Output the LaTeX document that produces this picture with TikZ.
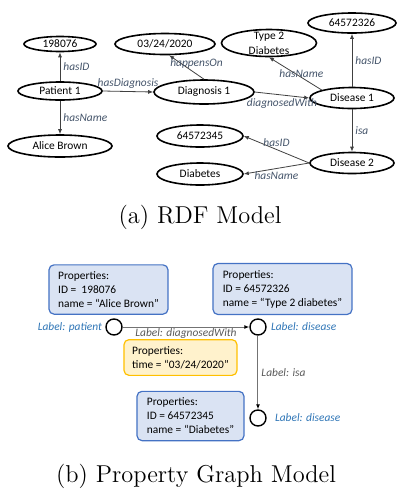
\documentclass[tikz,border=0pt]{standalone}
\usepackage{fontspec}
\usepackage{tikz}
\usetikzlibrary{shapes.geometric,arrows.meta,positioning}
\newfontfamily\carlito{Carlito}
\definecolor{rellabel}{HTML}{44546A}
\definecolor{typelabel}{HTML}{2E75B6}
\definecolor{pglabel}{HTML}{595959}
\definecolor{propfill}{HTML}{DAE3F3}
\definecolor{propline}{HTML}{4472C4}
\definecolor{timefill}{HTML}{FFF2CC}
\definecolor{timeline}{HTML}{FFC000}

\begin{document}
\begin{tikzpicture}[x=0.5pt,y=-0.5pt,
  every node/.style={font=\carlito\fontsize{5.7}{7}\selectfont},
  res/.style={ellipse,draw,line width=0.8pt,inner sep=0pt},
  rel/.style={draw=black!75,line width=0.4pt,-{Latex[length=2.5pt,width=2pt]}},
  rlab/.style={text=rellabel,font=\carlito\itshape\fontsize{5.7}{7}\selectfont,inner sep=1.5pt},
  propbox/.style={draw=propline,fill=propfill,rounded corners=2.5pt,line width=0.6pt,align=left},
  timebox/.style={draw=timeline,fill=timefill,rounded corners=2.5pt,line width=0.6pt,align=left},
  vertex/.style={circle,draw,line width=0.7pt,minimum size=8pt,inner sep=0pt},
  pgedge/.style={draw=black!55,line width=0.5pt,-{Latex[length=2.5pt,width=2pt,color=black]}},
  pglab/.style={text=pglabel,font=\carlito\itshape\fontsize{5.7}{7}\selectfont,inner sep=1.5pt},
  tlab/.style={text=typelabel,font=\carlito\itshape\fontsize{5.7}{7}\selectfont,inner sep=1pt},
  caption/.style={font=\fontsize{12.2}{14}\selectfont}]
\useasboundingbox (0,0) rectangle (399,489);

% (a) RDF model
\node[res,minimum width=36pt,minimum height=7.5pt] (id1) at (60,44) {198076};
\node[res,minimum width=42pt,minimum height=9pt] (p1) at (60,91) {Patient 1};
\node[res,minimum width=52pt,minimum height=11pt] (name1) at (60,146) {Alice Brown};
\node[res,minimum width=50pt,minimum height=10.5pt] (date) at (165,44) {03/24/2020};
\node[res,minimum width=50pt,minimum height=12pt] (diag) at (204,92) {Diagnosis 1};
\node[res,minimum width=47.5pt,minimum height=13.5pt] (t2d) at (269,43) {};
\node[align=center,font=\carlito\fontsize{5.7}{7.5}\selectfont] (t2dtext) at (t2d) {Type 2\\Diabetes};
\node[res,minimum width=44pt,minimum height=10pt] (id4) at (352,23) {64572326};
\node[res,minimum width=42pt,minimum height=10.5pt] (dis1) at (352,98) {Disease 1};
\node[res,minimum width=42pt,minimum height=10.5pt] (dis2) at (352,163) {Disease 2};
\node[res,minimum width=43pt,minimum height=11pt] (id2) at (200,136) {64572345};
\node[res,minimum width=43pt,minimum height=11pt] (diab) at (200,174) {Diabetes};

\draw[rel] (p1) -- node[rlab,right] {hasID} (id1);
\draw[rel] (p1) -- node[rlab,right] {hasName} (name1);
\draw[rel] (p1.east) -- node[rlab,above] {hasDiagnosis} (diag.west);
\draw[rel] (diag.north) -- node[rlab,xshift=5pt,yshift=2pt] {happensOn} (date.290);
\draw[rel] (diag.east) -- node[rlab,below] {diagnosedWith} (dis1.west);
\draw[rel] (dis1.north west) -- node[rlab,xshift=3pt] {hasName} (t2d.south);
\draw[rel] (dis1) -- node[rlab,right] {hasID} (id4);
\draw[rel] (dis1) -- node[rlab,right] {isa} (dis2);
\draw[rel] (dis2.west) -- node[rlab,above] {hasID} (id2.east);
\draw[rel] (dis2.west) -- node[rlab,below] {hasName} (diab.east);

\node[caption] (capa) at (200,217) {(a) RDF Model};

% (b) property graph model
\node[propbox,minimum width=59.5pt,minimum height=23.5pt] (pprops) at (108.5,289.5) {Properties:\\ID =\ \ 198076\\name = “Alice Brown”};
\node[propbox,minimum width=69.5pt,minimum height=23pt] (dprops) at (282.5,289) {Properties:\\ID = 64572326\\name = “Type 2 diabetes”};
\node[timebox,minimum width=56.5pt,minimum height=15.5pt] (tprops) at (180.5,357.5) {Properties:\\time = “03/24/2020”};
\node[propbox,minimum width=53.5pt,minimum height=23pt] (sprops) at (190.5,416) {Properties:\\ID = 64572345\\name = “Diabetes”};

\node[vertex] (np) at (114,327) {};
\node[vertex] (nd1) at (258,327) {};
\node[vertex] (nd2) at (258,418) {};
\node[tlab,left=0.5pt of np] (lp) {Label: patient};
\node[tlab,right=1pt of nd1] (ld1) {Label: disease};
\node[tlab,right=3pt of nd2] (ld2) {Label: disease};

\draw[pgedge] (np) -- node[pglab,below,inner sep=0.5pt] {Label: diagnosedWith} (nd1);
\draw[pgedge] (nd1) -- node[pglab,right] {Label: isa} (nd2);

\node[caption] (capb) at (196,476) {(b) Property Graph Model};
\end{tikzpicture}
\end{document}
